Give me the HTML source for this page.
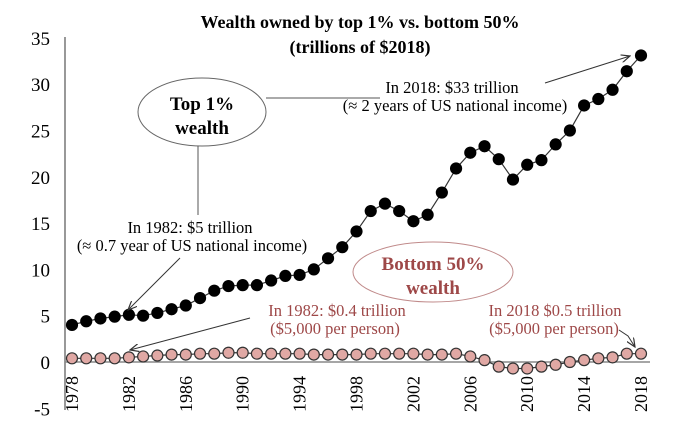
<!DOCTYPE html>
<html><head><meta charset="utf-8"><style>
body{margin:0;background:#fff}
svg{display:block;font-family:"Liberation Serif",serif}
</style></head><body>
<svg id="s" width="680" height="432" viewBox="0 0 680 432" xmlns="http://www.w3.org/2000/svg">
<defs><marker id="ar" markerWidth="10" markerHeight="8" refX="9" refY="4" orient="auto" markerUnits="userSpaceOnUse"><path d="M0,0 L9,4 L0,8" fill="none" stroke="#333" stroke-width="1.2"/></marker></defs>
<text x="360" y="28" font-size="18" font-weight="bold" text-anchor="middle">Wealth owned by top 1% vs. bottom 50%</text>
<text x="360" y="53" font-size="18" font-weight="bold" text-anchor="middle">(trillions of $2018)</text>
<line x1="65" y1="37" x2="65" y2="410" stroke="#555" stroke-width="1.2"/>
<line x1="65" y1="362" x2="650" y2="362" stroke="#888" stroke-width="1.5"/>
<g font-size="19" text-anchor="end" id="yl"></g>
<g font-size="18" id="xl"></g>
<g id="ser"></g>
<ellipse cx="202" cy="112" rx="64" ry="34" fill="#fff" stroke="#666" stroke-width="1"/>
<text x="202" y="110" font-size="19" font-weight="bold" text-anchor="middle">Top 1%</text>
<text x="202" y="134" font-size="19" font-weight="bold" text-anchor="middle">wealth</text>
<line x1="266" y1="98" x2="380" y2="98" stroke="#555"/>
<line x1="198" y1="146" x2="198" y2="215" stroke="#555"/>
<text x="452" y="93" font-size="16.5" text-anchor="middle">In 2018: $33 trillion</text>
<text x="455" y="111" font-size="16.5" text-anchor="middle">(≈ 2 years of US national income)</text>
<line x1="545" y1="83" x2="630" y2="56" stroke="#333" marker-end="url(#ar)"/>
<text x="190" y="233" font-size="16.5" text-anchor="middle">In 1982: $5 trillion</text>
<text x="192" y="251" font-size="16.5" text-anchor="middle">(≈ 0.7 year of US national income)</text>
<line x1="180" y1="258" x2="128" y2="310" stroke="#333" marker-end="url(#ar)"/>
<ellipse cx="433" cy="272" rx="80" ry="30" fill="#fff" stroke="#c08a8a" stroke-width="1"/>
<text x="433" y="270" font-size="19" font-weight="bold" fill="#9e4848" text-anchor="middle">Bottom 50%</text>
<text x="433" y="294" font-size="19" font-weight="bold" fill="#9e4848" text-anchor="middle">wealth</text>
<text x="337" y="316" font-size="16.5" fill="#9e4848" text-anchor="middle">In 1982: $0.4 trillion</text>
<text x="335" y="334" font-size="16.5" fill="#9e4848" text-anchor="middle">($5,000 per person)</text>
<line x1="250" y1="318" x2="130" y2="350" stroke="#333" marker-end="url(#ar)"/>
<text x="555" y="316" font-size="16.5" fill="#9e4848" text-anchor="middle">In 2018 $0.5 trillion</text>
<text x="554" y="334" font-size="16.5" fill="#9e4848" text-anchor="middle">($5,000 per person)</text>
<path d="M619,330 L628,336 L635,347" fill="none" stroke="#333" marker-end="url(#ar)"/>
</svg>
<script>
var NS="http://www.w3.org/2000/svg";
function el(t,a,p,txt){var e=document.createElementNS(NS,t);for(var k in a)e.setAttribute(k,a[k]);if(txt!==undefined)e.textContent=txt;document.getElementById(p).appendChild(e);return e;}
function Y(v){return 362-v*9.26;}
function X(y){return 72+(y-1978)*14.225;}
for(var v=-5;v<=35;v+=5)el("text",{x:50,y:Y(v)+7},"yl",String(v));
for(var yr=1978;yr<=2018;yr+=4){var x=X(yr)+6;el("text",{x:0,y:0,transform:"translate("+x+",412) rotate(-90)"},"xl",String(yr));}
var topData=[4.0,4.4,4.7,4.9,5.1,5.0,5.3,5.7,6.1,6.9,7.7,8.2,8.3,8.3,8.8,9.3,9.4,10.0,11.2,12.4,14.1,16.3,17.1,16.3,15.2,15.9,18.3,20.9,22.6,23.3,21.9,19.7,21.3,21.8,23.5,25.0,27.7,28.4,29.4,31.4,33.1];
var botData=[0.4,0.4,0.4,0.4,0.5,0.6,0.7,0.8,0.8,0.9,0.9,1.0,1.0,0.9,0.9,0.9,0.9,0.8,0.8,0.8,0.8,0.9,0.9,0.9,0.9,0.8,0.8,0.9,0.6,0.2,-0.5,-0.7,-0.7,-0.5,-0.3,0.0,0.2,0.4,0.5,0.9,0.9];
function series(d,fill,stroke){var p=d.map(function(v,i){return X(1978+i)+","+Y(v)}).join(" ");
el("polyline",{points:p,fill:"none",stroke:"#333","stroke-width":1.2},"ser");
d.forEach(function(v,i){el("circle",{cx:X(1978+i),cy:Y(v),r:5.5,fill:fill,stroke:stroke,"stroke-width":1.2},"ser");});}
series(topData,"#000","#000");
series(botData,"#e0a8a4","#333");
</script>
</body></html>
